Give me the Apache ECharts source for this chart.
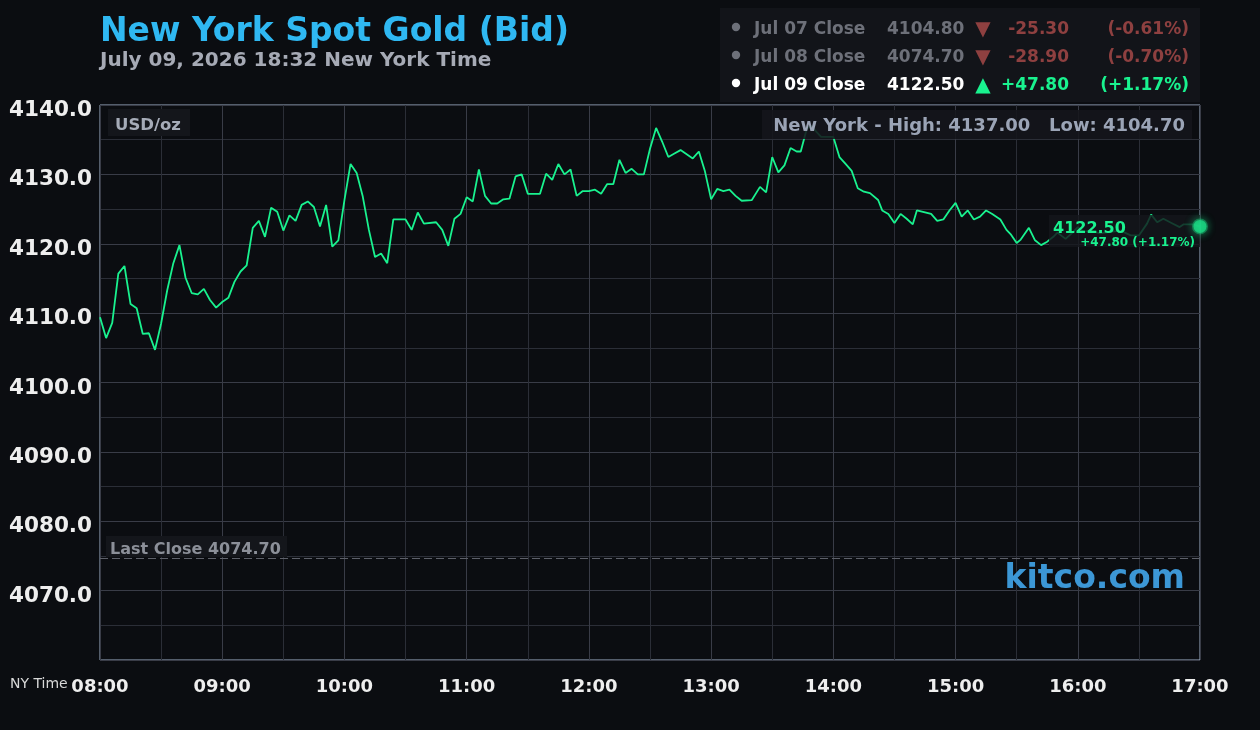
<!DOCTYPE html>
<html>
<head>
<meta charset="utf-8">
<script src="https://cdn.jsdelivr.net/npm/echarts@6/dist/echarts.min.js"></script>
<style>
  html, body { margin: 0; padding: 0; background: #0b0d11; }
  #chart { width: 1260px; height: 730px; }
</style>
</head>
<body>
<div id="chart"></div>
<script>
// minutes after 08:00 NY time, and bid price at that minute
var minutes = [0, 3, 6, 9, 12, 15, 18, 21, 24, 27, 30, 33, 36, 39, 42, 45, 48, 51, 54, 57,
  60, 63, 66, 69, 72, 75, 78, 81, 84, 87, 90, 93, 96, 99, 102, 105, 108, 111, 114, 117,
  120, 123, 126, 129, 132, 135, 138, 141, 144, 150, 153, 156, 159, 165, 168, 171, 174, 177,
  180, 183, 186, 189, 192, 195, 198, 201, 204, 207, 210, 216, 219, 222, 225, 228, 231, 234,
  237, 240, 243, 246, 249, 252, 255, 258, 261, 264, 267, 270, 273, 276, 279, 282, 285, 288,
  291, 294, 297, 300, 303, 306, 309, 312, 315, 320, 324, 327, 330, 333, 336, 339, 342, 344,
  347, 349, 354, 360, 363, 366, 369, 372, 375, 378, 382, 384, 387, 390, 393, 396, 399, 401,
  404, 408, 411, 414, 417, 420, 423, 426, 429, 432, 435, 438, 442, 445, 447, 450, 452, 456,
  459, 462, 465, 468, 470, 474, 477, 480, 483, 486, 491, 496, 501, 506, 510, 514, 516, 519,
  522, 526, 530, 532, 536, 540];
var prices = [4109.4, 4106.4, 4108.6, 4115.7, 4116.8, 4111.3, 4110.7, 4107.0, 4107.1, 4104.7,
  4108.5, 4113.3, 4117.2, 4119.8, 4115.1, 4112.9, 4112.7, 4113.5, 4111.9, 4110.8,
  4111.6, 4112.2, 4114.5, 4116.0, 4116.9, 4122.3, 4123.3, 4121.0, 4125.2, 4124.6,
  4121.9, 4124.1, 4123.3, 4125.6, 4126.1, 4125.3, 4122.5, 4125.6, 4119.6, 4120.5,
  4126.3, 4131.5, 4130.2, 4126.8, 4122.0, 4118.1, 4118.6, 4117.2, 4123.5, 4123.5,
  4122.0, 4124.5, 4122.9, 4123.1, 4122.0, 4119.7, 4123.6, 4124.3,
  4126.7, 4126.1, 4130.7, 4126.9, 4125.8, 4125.8, 4126.4, 4126.5, 4129.7, 4130.0,
  4127.2, 4127.2, 4130.1, 4129.2, 4131.5, 4130.0, 4130.7, 4126.9,
  4127.6, 4127.6, 4127.8, 4127.2, 4128.6, 4128.6, 4132.1, 4130.2, 4130.8, 4130.0,
  4130.0, 4133.7, 4136.7, 4134.7, 4132.5, 4133.0, 4133.5, 4132.9,
  4132.3, 4133.3, 4130.4, 4126.4, 4127.9, 4127.6, 4127.8, 4126.9, 4126.2, 4126.3,
  4128.2, 4127.4, 4132.5, 4130.3, 4131.3, 4133.8, 4133.3, 4133.3,
  4136.6, 4137.0, 4135.4, 4135.4, 4132.5, 4131.5, 4130.5, 4128.0, 4127.5, 4127.3,
  4126.3, 4124.8, 4124.3, 4123.0, 4124.3, 4123.6, 4122.8, 4124.8,
  4124.6, 4124.3, 4123.3, 4123.5, 4124.8, 4125.9, 4123.9, 4124.8, 4123.5, 4123.9,
  4124.8, 4124.3, 4123.5, 4122.0, 4121.4, 4120.1, 4120.6, 4122.3,
  4120.5, 4119.8, 4120.3, 4121.0, 4121.6, 4120.7, 4121.5, 4122.4, 4121.7, 4121.9,
  4121.5, 4121.7, 4121.9, 4121.2, 4121.2, 4122.9, 4124.2, 4123.1,
  4123.6, 4123.0, 4122.4, 4122.8, 4122.8, 4122.5];

var closeLabels = ['Jul 07 Close', 'Jul 08 Close', 'Jul 09 Close'];
var closeValues = ['4104.80', '4074.70', '4122.50'];
var closeChanges = ['-25.30', '-28.90', '+47.80'];
var closePercents = ['(-0.61%)', '(-0.70%)', '(+1.17%)'];
var lastClose = 4074.70;
var dayHigh = '4137.00';
var dayLow = '4104.70';

var BG = '#0b0d11';
var GREEN = '#19f28f';
var RED = '#8e4040';
var F = '"DejaVu Sans", sans-serif';

var pts = minutes.map(function (m, i) { return [m, prices[i]]; });
var last = pts[pts.length - 1];

var chart = echarts.init(document.getElementById('chart'));

function txt(text, x, y, font, fill, align, z) {
  return {
    type: 'text', z: z || 60, silent: true,
    style: { text: text, x: x, y: y, font: font, fill: fill,
      align: align || 'left', textAlign: align || 'left',
      verticalAlign: 'middle', textVerticalAlign: 'middle' }
  };
}
function box(x, y, w, h, fill, z) {
  return { type: 'rect', z: z || 55, silent: true,
    shape: { x: x, y: y, width: w, height: h }, style: { fill: fill } };
}

var g = [];
g.push(txt('New York Spot Gold (Bid)', 100, 32, 'bold 33px ' + F, '#2fb8f2'));
g.push(txt('July 09, 2026 18:32 New York Time', 100, 61, 'bold 20px ' + F, '#a6aab5'));

// closes panel
g.push(box(720, 8, 480, 94, '#121419'));
closeLabels.forEach(function (lab, i) {
  var y = 28 + i * 28;
  var today = i === 2;
  var tc = today ? '#ffffff' : '#6d7079';
  var cc = today ? GREEN : RED;
  g.push({ type: 'circle', z: 60, silent: true, shape: { cx: 736, cy: y - 1, r: 4.2 },
    style: { fill: today ? '#ffffff' : '#6d7079' } });
  g.push(txt(lab, 754, y + 2, 'bold 17px ' + F, tc));
  g.push(txt(closeValues[i], 887, y + 2, 'bold 17px ' + F, tc));
  g.push(txt(today ? '▲' : '▼', 983, y + 2, 'bold 20px ' + F, cc, 'center'));
  g.push(txt(closeChanges[i], 1069, y + 2, 'bold 17px ' + F, cc, 'right'));
  g.push(txt(closePercents[i], 1189, y + 2, 'bold 17px ' + F, cc, 'right'));
});

// in-plot labels
g.push(box(108, 109, 82, 27, '#14161b'));
g.push(txt('USD/oz', 115, 126, 'bold 16.5px ' + F, '#a5abb7'));
g.push(box(762, 110, 430, 29, 'rgba(20,22,27,0.88)'));
g.push(txt('New York - High: ' + dayHigh + '   Low: ' + dayLow, 1185, 126, 'bold 18px ' + F, '#9ba4b6', 'right'));
g.push(box(106, 536, 181, 21, '#14161b'));
g.push(txt('Last Close ' + lastClose.toFixed(2), 110, 550, 'bold 16px ' + F, '#8c9099'));
g.push(txt('kitco.com', 1185, 579, 'bold 33px ' + F, '#3c97d6', 'right'));
g.push(box(1049, 215, 151, 32, 'rgba(20,22,27,0.82)'));
g.push(txt(last[1].toFixed(2), 1053, 229, 'bold 16px ' + F, GREEN));
g.push(txt(closeChanges[2] + ' ' + closePercents[2], 1195, 243, 'bold 12px ' + F, GREEN, 'right'));
g.push(txt('NY Time', 10, 684, '14px ' + F, '#d8d8d8'));

chart.setOption({
  backgroundColor: BG,
  animation: false,
  grid: { left: 100, top: 105, width: 1100, height: 555, show: true,
    borderColor: '#9fb0c8', borderWidth: 1, backgroundColor: 'transparent' },
  xAxis: {
    type: 'value', min: 0, max: 540, interval: 60,
    axisLine: { show: false }, axisTick: { show: false },
    axisLabel: { color: '#eeeeee', fontFamily: F, fontWeight: 'bold', fontSize: 18, margin: 18,
      formatter: function (v) { var h = 8 + v / 60; return (h < 10 ? '0' : '') + h + ':00'; } },
    splitLine: { lineStyle: { color: '#393c47', width: 1 } },
    minorTick: { show: false, splitNumber: 2 },
    minorSplitLine: { show: true, lineStyle: { color: '#2b2e37', width: 1 } }
  },
  yAxis: {
    type: 'value', min: 4060, max: 4140, interval: 10,
    axisLine: { show: false }, axisTick: { show: false },
    axisLabel: { color: '#eeeeee', fontFamily: F, fontWeight: 'bold', fontSize: 21.5, margin: 8,
      verticalAlign: 'top', lineHeight: 11,
      formatter: function (v) { return v === 4060 ? '' : v.toFixed(1); } },
    splitLine: { lineStyle: { color: '#393c47', width: 1 } },
    minorTick: { show: false, splitNumber: 2 },
    minorSplitLine: { show: true, lineStyle: { color: '#2b2e37', width: 1 } }
  },
  graphic: { elements: g },
  series: [
    {
      type: 'line', data: pts, showSymbol: false, z: 3,
      lineStyle: { color: GREEN, width: 1.8 },
      markLine: {
        silent: true, symbol: 'none', label: { show: false },
        lineStyle: { color: '#5d6069', type: [8, 4], width: 1 },
        data: [{ yAxis: lastClose }]
      }
    },
    {
      type: 'scatter', data: [last], symbolSize: 13, z: 70, clip: false,
      itemStyle: { color: '#1ee68c', borderColor: 'rgba(25,200,120,0.55)', borderWidth: 3,
        shadowBlur: 8, shadowColor: 'rgba(25,242,143,0.7)' }
    }
  ]
});
</script>
</body>
</html>
